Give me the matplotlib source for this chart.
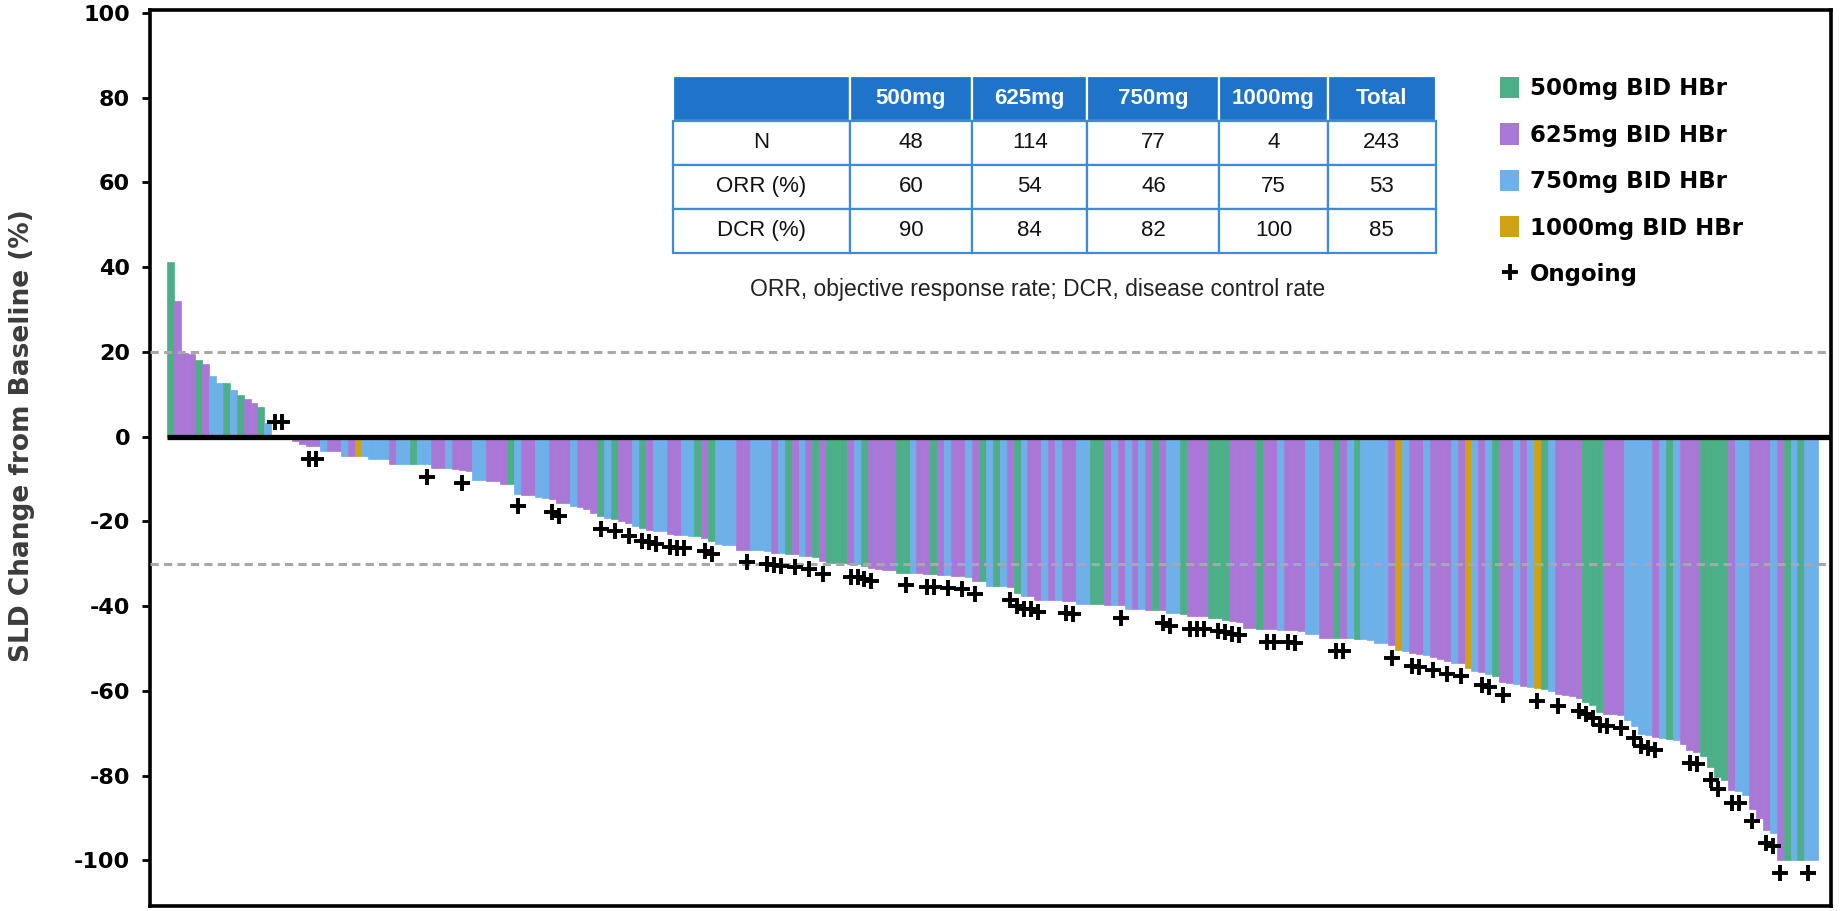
import matplotlib
matplotlib.use('Agg')
import matplotlib.pyplot as plt
from matplotlib.patches import Patch
from matplotlib.lines import Line2D
import numpy as np

# ---------------- data ----------------
doses = [
    500, 625, 625, 625, 500, 625, 750, 750, 500, 750,
    500, 625, 625, 500, 750, 625, 625, 500, 625, 625,
    625, 625, 750, 625, 625, 750, 625, 1000, 750, 750,
    750, 750, 625, 750, 750, 500, 750, 750, 625, 625,
    750, 625, 625, 625, 750, 750, 625, 625, 625, 500,
    750, 625, 625, 750, 750, 625, 625, 625, 750, 625,
    625, 625, 500, 750, 500, 625, 625, 750, 500, 625,
    750, 750, 625, 625, 750, 750, 500, 625, 500, 750,
    750, 750, 625, 625, 750, 750, 750, 625, 750, 500,
    625, 750, 625, 500, 625, 500, 500, 500, 625, 750,
    500, 625, 625, 625, 625, 500, 500, 750, 625, 625,
    500, 625, 750, 625, 625, 750, 625, 500, 750, 500,
    750, 625, 500, 750, 625, 625, 750, 625, 750, 625,
    625, 750, 750, 500, 500, 625, 750, 625, 750, 625,
    750, 625, 500, 625, 750, 750, 500, 625, 625, 625,
    500, 500, 500, 625, 625, 625, 625, 500, 625, 625,
    750, 625, 625, 625, 750, 750, 625, 625, 500, 625,
    750, 500, 750, 750, 750, 750, 625, 1000, 750, 625,
    625, 750, 625, 625, 625, 750, 625, 1000, 750, 625,
    750, 500, 625, 625, 750, 625, 750, 1000, 500, 750,
    625, 625, 625, 625, 500, 500, 500, 625, 625, 625,
    750, 750, 750, 750, 625, 750, 500, 750, 625, 625,
    625, 500, 500, 500, 500, 625, 750, 750, 625, 625,
    625, 750, 625, 500, 750, 500, 750, 750,
]

sld_change = [
    41.1, 32.1, 19.8, 19.6, 18.0, 17.2, 14.2, 12.7, 12.7, 10.9,
    9.9, 8.9, 7.9, 6.9, 3.2, 0.4, 0.4, 0.3, -1.0, -1.8,
    -2.3, -2.3, -3.5, -3.5, -3.5, -4.5, -4.5, -4.5, -4.5, -5.4,
    -5.4, -5.4, -6.5, -6.5, -6.5, -6.5, -6.5, -6.5, -7.4, -7.4,
    -7.4, -7.6, -7.9, -8.2, -10.2, -10.2, -10.6, -10.6, -11.3, -11.3,
    -13.5, -13.7, -13.9, -14.3, -14.5, -14.8, -15.7, -15.7, -16.5, -16.6,
    -17.2, -18.0, -18.8, -19.2, -19.4, -20.0, -20.5, -21.2, -21.6, -22.0,
    -22.3, -22.4, -23.1, -23.3, -23.3, -23.4, -23.5, -23.9, -24.7, -25.3,
    -25.5, -25.5, -26.7, -26.7, -26.7, -26.8, -27.0, -27.4, -27.5, -27.6,
    -27.8, -28.1, -28.2, -28.5, -29.4, -29.8, -29.8, -29.8, -30.1, -30.1,
    -30.6, -31.0, -31.2, -31.4, -31.5, -32.1, -32.1, -32.2, -32.3, -32.4,
    -32.5, -32.6, -32.7, -32.8, -33.0, -33.2, -34.2, -34.2, -35.3, -35.3,
    -35.3, -35.5, -36.9, -37.7, -37.7, -38.5, -38.5, -38.5, -38.6, -38.7,
    -38.8, -39.6, -39.6, -39.6, -39.6, -39.7, -39.7, -39.8, -40.8, -40.8,
    -40.8, -40.9, -41.0, -41.0, -41.6, -41.6, -41.8, -42.4, -42.4, -42.4,
    -42.8, -42.8, -43.2, -43.5, -43.8, -45.3, -45.3, -45.4, -45.5, -45.5,
    -45.6, -45.6, -45.7, -45.8, -46.5, -46.5, -47.5, -47.5, -47.5, -47.6,
    -47.6, -47.7, -47.8, -48.0, -48.7, -48.7, -49.2, -50.3, -50.5, -51.2,
    -51.4, -51.6, -52.0, -52.4, -53.0, -53.4, -53.5, -54.6, -55.4, -55.6,
    -56.0, -56.5, -58.0, -58.1, -58.5, -58.8, -59.0, -59.3, -59.6, -60.1,
    -60.7, -60.9, -61.3, -61.8, -62.6, -63.4, -65.0, -65.4, -65.6, -65.8,
    -66.8, -68.2, -70.1, -70.5, -70.9, -71.1, -71.3, -71.6, -72.5, -74.0,
    -74.4, -75.5, -78.0, -80.3, -81.0, -83.4, -83.6, -84.5, -87.8, -90.0,
    -92.9, -93.6, -100.0, -100.0, -100.0, -100.0, -100.0, -100.0,
]

ongoing_idx = [
    15, 16, 20, 21, 37, 42, 50, 55, 56, 62, 64, 66, 68, 69, 70, 72, 73, 74,
    77, 78, 83, 86, 87, 88, 90, 92, 94, 98, 99, 100, 101, 106, 109, 110,
    112, 114, 116, 121, 122, 123, 124, 125, 129, 130, 137, 143, 144, 147,
    148, 149, 151, 152, 153, 154, 158, 159, 161, 162, 168, 169, 176, 179,
    180, 182, 184, 186, 189, 190, 192, 197, 200, 203, 204, 205, 206, 207,
    209, 211, 212, 213, 214, 219, 220, 222, 223, 225, 226, 228, 230, 231,
    232, 236,
]

dose_keys = [500, 625, 750, 1000]
dose_labels = ['500mg BID HBr', '625mg BID HBr', '750mg BID HBr', '1000mg BID HBr']
dose_colors = ['#4DAF88', '#A978D6', '#6EB0EA', '#CFA214']

ref_lines = [20, -30]
y_ticks = [-100, -80, -60, -40, -20, 0, 20, 40, 60, 80, 100]

table_header = ['', '500mg', '625mg', '750mg', '1000mg', 'Total']
table_row_names = ['N', 'ORR (%)', 'DCR (%)']
table_N = [48, 114, 77, 4, 243]
table_ORR = [60, 54, 46, 75, 53]
table_DCR = [90, 84, 82, 100, 85]
caption = 'ORR, objective response rate; DCR, disease control rate'

# ---------------- figure ----------------
W, H = 1845, 911
fig = plt.figure(figsize=(W / 100, H / 100), dpi=100)
ax_l, ax_r, ax_t, ax_b = 149.5, 1831.0, 9.5, 906.0
ax = fig.add_axes([ax_l / W, 1 - ax_b / H, (ax_r - ax_l) / W, (ax_b - ax_t) / H])

cmap = dict(zip(dose_keys, dose_colors))
x = np.arange(len(sld_change))
bar_colors = [cmap[d] for d in doses]
ax.bar(x, sld_change, width=1.0, color=bar_colors, edgecolor=bar_colors,
       linewidth=0.5, zorder=2)

xmax = len(sld_change) - 0.5 + 1.83
ax.set_xlim(-3.06, xmax)
ax.set_ylim(-110.8, 100.8)

for r in ref_lines:
    ax.axhline(r, color='#A8A8A8', lw=2.2, dashes=(2.7, 1.7), zorder=3)
ax.hlines(0, -0.6, xmax, color='black', lw=3.8, zorder=4)

on_x = np.array(ongoing_idx)
on_v = np.array([sld_change[i] for i in ongoing_idx])
on_y = np.where(on_v < 0, on_v - 3, on_v + 3)
ax.plot(on_x, on_y, ls='none', marker='+', ms=11, mew=2.8, color='black', zorder=5)

ax.set_xticks([])
ax.set_yticks(y_ticks)
ax.set_yticklabels([str(t) for t in y_ticks], fontsize=16, fontweight='bold',
                   family='DejaVu Sans')
ax.tick_params(axis='y', length=6, width=2, direction='out', pad=8)
for s in ax.spines.values():
    s.set_linewidth(2.6)

fig.text(22 / W, 1 - 436 / H, 'SLD Change from Baseline (%)', rotation=90,
         ha='center', va='center', fontsize=19, fontweight='bold', color='#3C3C3C')

# legend
handles = [Patch(facecolor=c, edgecolor='none') for c in dose_colors]
handles.append(Line2D([], [], ls='none', marker='+', ms=12, mew=2.8, color='black'))
labels = dose_labels + ['Ongoing']
leg = ax.legend(handles, labels, loc='upper left',
                bbox_to_anchor=(1500 / W, 1 - 77 / H), bbox_transform=fig.transFigure,
                frameon=False, borderpad=0, borderaxespad=0, handlelength=0.85,
                handleheight=1.05, handletextpad=0.45, labelspacing=1.0,
                prop={'family': 'DejaVu Sans', 'weight': 'bold', 'size': 16.5})

# table
cell_text = [[table_row_names[0]] + [str(v) for v in table_N],
             [table_row_names[1]] + [str(v) for v in table_ORR],
             [table_row_names[2]] + [str(v) for v in table_DCR]]
col_w = [0.2315, 0.1605, 0.1512, 0.1728, 0.142, 0.142]
tx0, tx1, ty0, ty1 = 673, 1436, 76.5, 253
bbox = [(tx0 - ax_l) / (ax_r - ax_l), (ax_b - ty1) / (ax_b - ax_t),
        (tx1 - tx0) / (ax_r - ax_l), (ty1 - ty0) / (ax_b - ax_t)]
tbl = ax.table(cellText=cell_text, colLabels=table_header, colWidths=col_w,
               bbox=bbox, cellLoc='center', zorder=6)
tbl.auto_set_font_size(False)
tbl.set_fontsize(16)
for (r, c), cell in tbl.get_celld().items():
    cell.set_linewidth(1.6)
    t = cell.get_text()
    t.set_fontfamily('Liberation Sans')
    if r == 0:
        cell.set_facecolor('#1F74C9')
        cell.set_edgecolor('white')
        t.set_color('white')
        t.set_fontweight('bold')
    else:
        cell.set_facecolor('white')
        cell.set_edgecolor('#3D8BDB')
        t.set_color('#111111')

fig.text(1038 / W, 1 - 290 / H, caption, ha='center', va='center',
         fontsize=16.5, family='Liberation Sans', color='#222222')

fig.savefig('out.png', dpi=100)
